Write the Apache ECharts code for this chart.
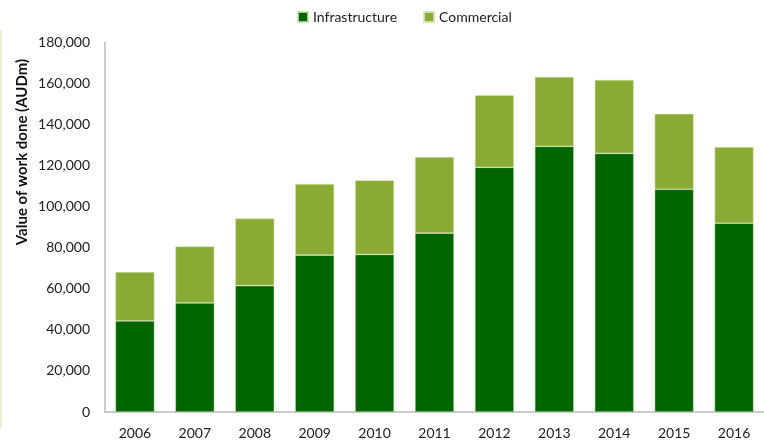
<!DOCTYPE html>
<html><head><meta charset="utf-8">
<script src="https://cdn.jsdelivr.net/npm/echarts@6/dist/echarts.min.js"></script>
<style>html,body{margin:0;padding:0;background:#fff}#c{width:764px;height:440px}</style>
</head><body><div id="c"></div>
<script>
const categories = ['2006','2007','2008','2009','2010','2011','2012','2013','2014','2015','2016'];
const infrastructure = [44300, 53050, 61470, 76330, 76660, 87000, 119030, 129220, 125810, 108350, 91850];
const commercial = [23780, 27490, 32660, 34630, 36040, 37060, 35100, 33810, 35760, 36720, 37070];
const seriesNames = ['Infrastructure', 'Commercial'];
const yAxisTitle = 'Value of work done (AUDm)';

const FONT = 'Lato, "Open Sans", sans-serif';
const chart = echarts.init(document.getElementById('c'));
chart.setOption({
  animation: false,
  backgroundColor: '#fff',
  legend: {
    top: 5, left: 292, itemWidth: 10, itemHeight: 10, itemGap: 26,
    icon: 'rect',
    textStyle: {fontFamily: FONT, fontSize: 14, color: '#222'},
    data: seriesNames
  },
  grid: {left: 105, top: 42, width: 669, height: 371},
  xAxis: {
    type: 'category', data: categories,
    axisLine: {lineStyle: {color: '#bbb', width: 1.5}},
    axisTick: {show: false},
    axisLabel: {fontFamily: FONT, fontSize: 14, color: '#222', margin: 14}
  },
  yAxis: {
    type: 'value', min: 0, max: 180000, interval: 20000,
    axisLine: {show: true, lineStyle: {color: '#bbb', width: 1.5}},
    axisTick: {show: false},
    splitLine: {show: false},
    axisLabel: {fontFamily: FONT, fontSize: 14, color: '#222', margin: 15,
      formatter: v => v.toLocaleString('en-US')}
  },
  graphic: [
    {type: 'text', x: 22, y: 152, rotation: Math.PI / 2,
      style: {text: yAxisTitle, fontFamily: FONT, fontSize: 15, fontWeight: 'bold', fill: '#111',
        textAlign: 'center', textVerticalAlign: 'middle'}},
    {type: 'rect', shape: {x: 0, y: 30, width: 2, height: 398}, style: {fill: '#e4efd6'}}
  ],
  series: [
    {name: seriesNames[0], type: 'bar', stack: 'total', data: infrastructure, barWidth: 39,
      itemStyle: {color: '#006400', borderColor: 'rgba(200,225,170,0.8)', borderWidth: 0.6}},
    {name: seriesNames[1], type: 'bar', stack: 'total', data: commercial, barWidth: 39,
      itemStyle: {color: '#8AAA35', borderColor: 'rgba(210,230,180,0.9)', borderWidth: 0.6}}
  ]
});
</script></body></html>
